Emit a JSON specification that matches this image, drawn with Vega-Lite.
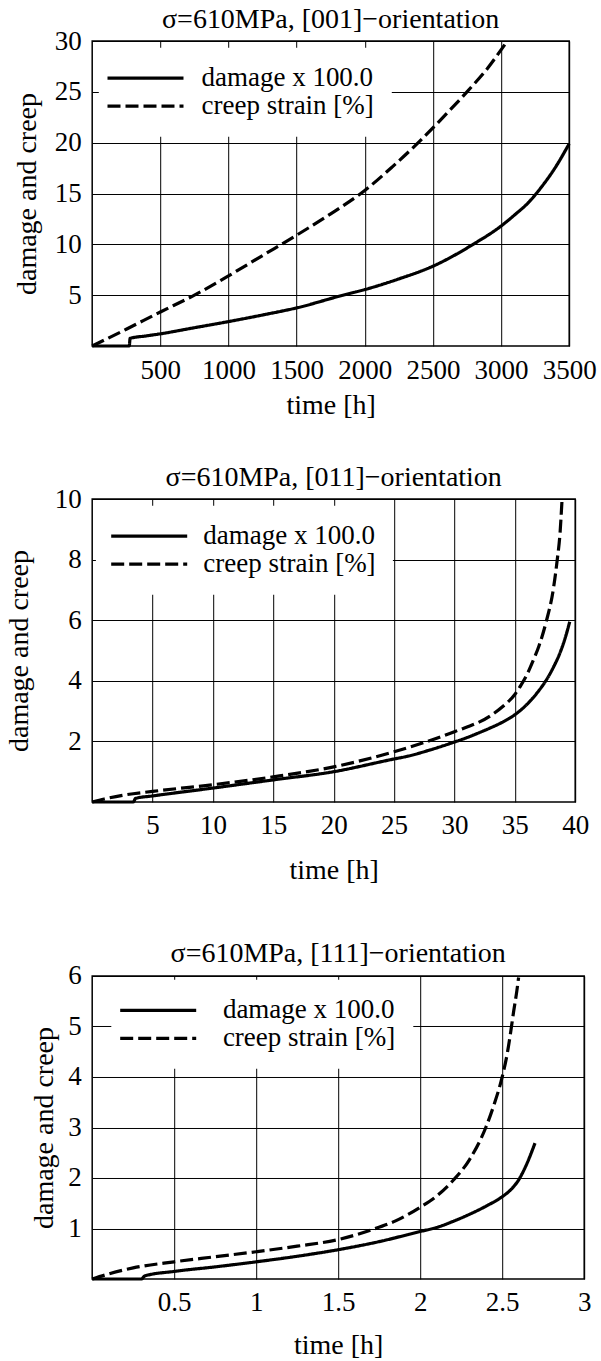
{
  "$schema": "https://vega.github.io/schema/vega-lite/v6.json",
  "padding": {"left": 4.2, "top": 4, "right": 5, "bottom": 3},
  "background": "white",
  "spacing": 42,
  "datasets": {
    "p1": [
      {"series": "damage x 100.0", "t": 0, "v": 0},
      {"series": "damage x 100.0", "t": 272, "v": 0},
      {"series": "damage x 100.0", "t": 278, "v": 0.75},
      {"series": "damage x 100.0", "t": 400, "v": 1.0},
      {"series": "damage x 100.0", "t": 500, "v": 1.2},
      {"series": "damage x 100.0", "t": 750, "v": 1.8},
      {"series": "damage x 100.0", "t": 1000, "v": 2.4},
      {"series": "damage x 100.0", "t": 1250, "v": 3.05},
      {"series": "damage x 100.0", "t": 1500, "v": 3.75},
      {"series": "damage x 100.0", "t": 1840, "v": 5.0},
      {"series": "damage x 100.0", "t": 2000, "v": 5.55},
      {"series": "damage x 100.0", "t": 2250, "v": 6.6},
      {"series": "damage x 100.0", "t": 2500, "v": 7.85},
      {"series": "damage x 100.0", "t": 2795, "v": 10.0},
      {"series": "damage x 100.0", "t": 3000, "v": 11.8},
      {"series": "damage x 100.0", "t": 3100, "v": 12.9},
      {"series": "damage x 100.0", "t": 3200, "v": 14.1},
      {"series": "damage x 100.0", "t": 3300, "v": 15.7},
      {"series": "damage x 100.0", "t": 3400, "v": 17.6},
      {"series": "damage x 100.0", "t": 3500, "v": 19.9},
      {"series": "creep strain [%]", "t": 0, "v": 0},
      {"series": "creep strain [%]", "t": 250, "v": 1.65},
      {"series": "creep strain [%]", "t": 500, "v": 3.35},
      {"series": "creep strain [%]", "t": 750, "v": 5.0},
      {"series": "creep strain [%]", "t": 1000, "v": 6.9},
      {"series": "creep strain [%]", "t": 1250, "v": 8.9},
      {"series": "creep strain [%]", "t": 1500, "v": 10.9},
      {"series": "creep strain [%]", "t": 1750, "v": 13.0},
      {"series": "creep strain [%]", "t": 2000, "v": 15.3},
      {"series": "creep strain [%]", "t": 2200, "v": 17.6},
      {"series": "creep strain [%]", "t": 2400, "v": 20.1},
      {"series": "creep strain [%]", "t": 2600, "v": 22.85},
      {"series": "creep strain [%]", "t": 2750, "v": 25.0},
      {"series": "creep strain [%]", "t": 2900, "v": 27.3},
      {"series": "creep strain [%]", "t": 3030, "v": 29.7}
    ],
    "p2": [
      {"series": "damage x 100.0", "t": 0, "v": 0},
      {"series": "damage x 100.0", "t": 3.4, "v": 0},
      {"series": "damage x 100.0", "t": 3.6, "v": 0.12},
      {"series": "damage x 100.0", "t": 5, "v": 0.2},
      {"series": "damage x 100.0", "t": 10, "v": 0.46},
      {"series": "damage x 100.0", "t": 15, "v": 0.73},
      {"series": "damage x 100.0", "t": 20, "v": 1.0},
      {"series": "damage x 100.0", "t": 25, "v": 1.42},
      {"series": "damage x 100.0", "t": 26, "v": 1.5},
      {"series": "damage x 100.0", "t": 28, "v": 1.72},
      {"series": "damage x 100.0", "t": 30, "v": 1.98},
      {"series": "damage x 100.0", "t": 31, "v": 2.12},
      {"series": "damage x 100.0", "t": 32, "v": 2.28},
      {"series": "damage x 100.0", "t": 33, "v": 2.45},
      {"series": "damage x 100.0", "t": 34, "v": 2.64},
      {"series": "damage x 100.0", "t": 35, "v": 2.88},
      {"series": "damage x 100.0", "t": 36, "v": 3.22},
      {"series": "damage x 100.0", "t": 37, "v": 3.68},
      {"series": "damage x 100.0", "t": 37.6, "v": 4.02},
      {"series": "damage x 100.0", "t": 38.2, "v": 4.45},
      {"series": "damage x 100.0", "t": 38.8, "v": 4.98},
      {"series": "damage x 100.0", "t": 39.2, "v": 5.45},
      {"series": "damage x 100.0", "t": 39.55, "v": 5.95},
      {"series": "creep strain [%]", "t": 0, "v": 0},
      {"series": "creep strain [%]", "t": 1, "v": 0.1},
      {"series": "creep strain [%]", "t": 2.5, "v": 0.22},
      {"series": "creep strain [%]", "t": 5, "v": 0.35},
      {"series": "creep strain [%]", "t": 10, "v": 0.57},
      {"series": "creep strain [%]", "t": 15, "v": 0.83},
      {"series": "creep strain [%]", "t": 20, "v": 1.16},
      {"series": "creep strain [%]", "t": 25, "v": 1.66},
      {"series": "creep strain [%]", "t": 30, "v": 2.32},
      {"series": "creep strain [%]", "t": 33, "v": 2.85},
      {"series": "creep strain [%]", "t": 34, "v": 3.15},
      {"series": "creep strain [%]", "t": 35, "v": 3.55},
      {"series": "creep strain [%]", "t": 35.5, "v": 3.85},
      {"series": "creep strain [%]", "t": 36, "v": 4.2},
      {"series": "creep strain [%]", "t": 36.5, "v": 4.65},
      {"series": "creep strain [%]", "t": 37, "v": 5.15},
      {"series": "creep strain [%]", "t": 37.6, "v": 5.95},
      {"series": "creep strain [%]", "t": 38.2, "v": 7.05},
      {"series": "creep strain [%]", "t": 38.5, "v": 7.95},
      {"series": "creep strain [%]", "t": 38.75, "v": 8.9},
      {"series": "creep strain [%]", "t": 38.9, "v": 9.9}
    ],
    "p3": [
      {"series": "damage x 100.0", "t": 0, "v": 0},
      {"series": "damage x 100.0", "t": 0.3, "v": 0},
      {"series": "damage x 100.0", "t": 0.32, "v": 0.06},
      {"series": "damage x 100.0", "t": 0.5, "v": 0.15},
      {"series": "damage x 100.0", "t": 0.75, "v": 0.24},
      {"series": "damage x 100.0", "t": 1.0, "v": 0.34},
      {"series": "damage x 100.0", "t": 1.25, "v": 0.45},
      {"series": "damage x 100.0", "t": 1.5, "v": 0.58},
      {"series": "damage x 100.0", "t": 1.75, "v": 0.74},
      {"series": "damage x 100.0", "t": 2.0, "v": 0.94},
      {"series": "damage x 100.0", "t": 2.1, "v": 1.02},
      {"series": "damage x 100.0", "t": 2.2, "v": 1.14},
      {"series": "damage x 100.0", "t": 2.3, "v": 1.28},
      {"series": "damage x 100.0", "t": 2.4, "v": 1.44},
      {"series": "damage x 100.0", "t": 2.5, "v": 1.63},
      {"series": "damage x 100.0", "t": 2.55, "v": 1.76},
      {"series": "damage x 100.0", "t": 2.6, "v": 1.96},
      {"series": "damage x 100.0", "t": 2.65, "v": 2.28},
      {"series": "damage x 100.0", "t": 2.7, "v": 2.69},
      {"series": "creep strain [%]", "t": 0, "v": 0},
      {"series": "creep strain [%]", "t": 0.1, "v": 0.1},
      {"series": "creep strain [%]", "t": 0.25, "v": 0.22},
      {"series": "creep strain [%]", "t": 0.5, "v": 0.34},
      {"series": "creep strain [%]", "t": 0.75, "v": 0.44},
      {"series": "creep strain [%]", "t": 1.0, "v": 0.54},
      {"series": "creep strain [%]", "t": 1.25, "v": 0.65},
      {"series": "creep strain [%]", "t": 1.5, "v": 0.78},
      {"series": "creep strain [%]", "t": 1.7, "v": 0.97},
      {"series": "creep strain [%]", "t": 1.85, "v": 1.15},
      {"series": "creep strain [%]", "t": 2.0, "v": 1.42},
      {"series": "creep strain [%]", "t": 2.1, "v": 1.64},
      {"series": "creep strain [%]", "t": 2.2, "v": 1.95},
      {"series": "creep strain [%]", "t": 2.3, "v": 2.36},
      {"series": "creep strain [%]", "t": 2.4, "v": 3.0},
      {"series": "creep strain [%]", "t": 2.45, "v": 3.45},
      {"series": "creep strain [%]", "t": 2.5, "v": 4.0},
      {"series": "creep strain [%]", "t": 2.53, "v": 4.45},
      {"series": "creep strain [%]", "t": 2.55, "v": 4.85},
      {"series": "creep strain [%]", "t": 2.57, "v": 5.3},
      {"series": "creep strain [%]", "t": 2.59, "v": 5.72},
      {"series": "creep strain [%]", "t": 2.6, "v": 5.97}
    ]
  },
  "vconcat": [
    {
      "width": 477,
      "height": 305,
      "title": {"text": "σ=610MPa, [001]−orientation"},
      "data": {"name": "p1"},
      "mark": {"type": "line", "interpolate": "monotone"},
      "encoding": {
        "x": {"field": "t", "type": "quantitative", "scale": {"domain": [0, 3500], "nice": false},
              "axis": {"values": [500, 1000, 1500, 2000, 2500, 3000, 3500], "title": "time [h]"}},
        "y": {"field": "v", "type": "quantitative", "scale": {"domain": [0, 30], "nice": false},
              "axis": {"values": [5, 10, 15, 20, 25, 30], "title": "damage and creep", "titlePadding": 12.6}},
        "strokeDash": {"field": "series", "type": "nominal",
              "scale": {"domain": ["damage x 100.0", "creep strain [%]"], "range": [[1, 0], [13, 5]]},
              "legend": {"legendX": 6.6, "legendY": 6.7, "symbolOffset": 16.2, "labelOffset": 42.5}}
      }
    },
    {
      "width": 483,
      "height": 303,
      "title": {"text": "σ=610MPa, [011]−orientation"},
      "data": {"name": "p2"},
      "mark": {"type": "line", "interpolate": "monotone"},
      "encoding": {
        "x": {"field": "t", "type": "quantitative", "scale": {"domain": [0, 40], "nice": false},
              "axis": {"values": [5, 10, 15, 20, 25, 30, 35, 40], "title": ["time [h]", ""], "titlePadding": 18, "titleLineHeight": 11}},
        "y": {"field": "v", "type": "quantitative", "scale": {"domain": [0, 10], "nice": false},
              "axis": {"values": [2, 4, 6, 8, 10], "title": "damage and creep", "titlePadding": 20.5}},
        "strokeDash": {"field": "series", "type": "nominal",
              "scale": {"domain": ["damage x 100.0", "creep strain [%]"], "range": [[1, 0], [13, 5]]},
              "legend": {"legendX": 3.7, "legendY": 6.7, "symbolOffset": 22.8, "labelOffset": 40.6}}
      }
    },
    {
      "width": 492,
      "height": 303,
      "title": {"text": "σ=610MPa, [111]−orientation"},
      "data": {"name": "p3"},
      "mark": {"type": "line", "interpolate": "monotone"},
      "encoding": {
        "x": {"field": "t", "type": "quantitative", "scale": {"domain": [0, 3], "nice": false},
              "axis": {"values": [0.5, 1, 1.5, 2, 2.5, 3], "title": "time [h]", "titlePadding": 16}},
        "y": {"field": "v", "type": "quantitative", "scale": {"domain": [0, 6], "nice": false},
              "axis": {"values": [1, 2, 3, 4, 5, 6], "title": "damage and creep", "titlePadding": 9}},
        "strokeDash": {"field": "series", "type": "nominal",
              "scale": {"domain": ["damage x 100.0", "creep strain [%]"], "range": [[1, 0], [13, 5]]},
              "legend": {"legendX": 19.1, "legendY": 3.8, "symbolOffset": 16.4, "labelOffset": 51.2}}
      }
    }
  ],
  "resolve": {"scale": {"strokeDash": "independent"}, "legend": {"strokeDash": "independent"}},
  "config": {
    "font": "Liberation Serif",
    "view": {"stroke": "black", "strokeWidth": 1.5},
    "axis": {
      "grid": true, "gridColor": "black", "gridOpacity": 1, "gridWidth": 1,
      "domain": false, "ticks": false, "tickSize": 0,
      "labelFont": "Liberation Serif", "labelFontSize": 27, "labelColor": "black",
      "labelPadding": 11, "labelFlush": false, "labelOverlap": false,
      "labelExpr": "'' + datum.value",
      "titleFont": "Liberation Serif", "titleFontSize": 28, "titleFontWeight": "normal", "titleColor": "black"
    },
    "axisX": {"titlePadding": 8},
    "title": {"font": "Liberation Serif", "fontSize": 28, "fontWeight": "normal", "color": "black", "offset": -6.5, "anchor": "middle"},
    "legend": {
      "orient": "none", "title": null, "fillColor": "white", "padding": 17,
      "symbolType": "M-4,0H4", "symbolSize": 361, "symbolStrokeWidth": 3, "symbolStrokeColor": "black",
      "symbolFillColor": "transparent",
      "labelFont": "Liberation Serif", "labelFontSize": 27, "labelColor": "black", "labelLimit": 0,
      "rowPadding": 0
    },
    "line": {"color": "black", "strokeWidth": 3.2}
  }
}
